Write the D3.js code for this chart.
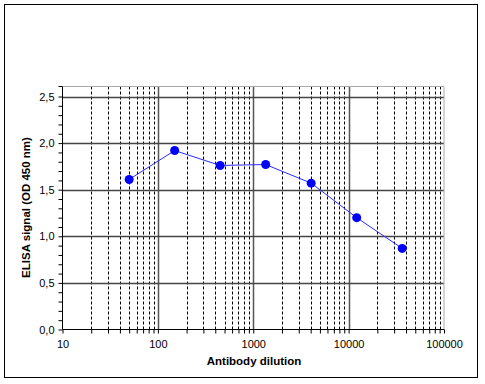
<!DOCTYPE html>
<html><head><meta charset="utf-8">
<script src="https://cdn.jsdelivr.net/npm/d3@7"></script>
<style>
html,body{margin:0;padding:0;background:#fff;}
svg{display:block;font-family:Arial,"Liberation Sans",sans-serif;}
</style></head>
<body>
<svg id="chart" width="485" height="384"></svg>
<script>
const dilutions = [50, 150, 450, 1350, 4050, 12150, 36450];
const signals = [1.61, 1.92, 1.76, 1.77, 1.57, 1.20, 0.87];
const xTickLabels = ["10", "100", "1000", "10000", "100000"];
const xTickValues = [10, 100, 1000, 10000, 100000];
const yTickValues = [0, 0.5, 1.0, 1.5, 2.0, 2.5];
const yTickLabels = ["0,0", "0,5", "1,0", "1,5", "2,0", "2,5"];

const svg = d3.select("#chart");
// outer frame
svg.append("rect").attr("x", 4.5).attr("y", 4.5).attr("width", 473).attr("height", 373)
  .attr("fill", "#fff").attr("stroke", "#000").attr("stroke-width", 1);

const left = 62.5, right = 444, bottom = 329.5, plotTop = 86.5;
const x = d3.scaleLog().domain([10, 100000]).range([left, right]);
const y = d3.scaleLinear().domain([0, 2.5]).range([bottom, 96.5]);

const g = svg.append("g");

// minor vertical dashed gridlines
const minor = [];
for (let d = 10; d < 100000; d *= 10) for (let k = 2; k <= 9; k++) minor.push(d * k);
g.selectAll(".vminor").data(minor).enter().append("line")
  .attr("x1", d => Math.round(x(d)) + 0.5).attr("x2", d => Math.round(x(d)) + 0.5)
  .attr("y1", plotTop).attr("y2", bottom)
  .attr("stroke", "#000").attr("stroke-width", 1).attr("stroke-dasharray", "3,2");

// major vertical gridlines
g.selectAll(".vmajor").data([100, 1000, 10000]).enter().append("line")
  .attr("x1", d => Math.round(x(d)) + 0.5).attr("x2", d => Math.round(x(d)) + 0.5)
  .attr("y1", plotTop).attr("y2", bottom)
  .attr("stroke", "#555").attr("stroke-width", 1.5);

// horizontal gridlines
g.selectAll(".hmajor").data(yTickValues.slice(1)).enter().append("line")
  .attr("x1", left).attr("x2", right)
  .attr("y1", d => Math.round(y(d)) + 0.5).attr("y2", d => Math.round(y(d)) + 0.5)
  .attr("stroke", "#444").attr("stroke-width", 1.5);

// plot border top & right (gray)
g.append("path").attr("d", `M${left},${plotTop}H${right}V${bottom}`)
  .attr("fill", "none").attr("stroke", "#aaa").attr("stroke-width", 1);

// y axis
const yMinor = d3.range(0, 26).map(i => i / 10);
const yAxis = d3.axisLeft(y).tickValues(yMinor).tickSize(4)
  .tickFormat(d => {
    const i = yTickValues.findIndex(v => Math.abs(v - d) < 1e-9);
    return i >= 0 ? yTickLabels[i] : "";
  });
const ya = svg.append("g").attr("transform", `translate(${left},0)`).call(yAxis);
ya.select(".domain").remove();
ya.append("line").attr("x1", 0).attr("x2", 0).attr("y1", plotTop).attr("y2", bottom).attr("stroke", "#000");
ya.append("line").attr("x1", -4).attr("x2", 0).attr("y1", plotTop).attr("y2", plotTop).attr("stroke", "#000");
ya.selectAll(".tick line").attr("stroke", "#000");
ya.selectAll(".tick text").attr("font-size", 11).attr("fill", "#000").attr("font-family", "Arial,'Liberation Sans',sans-serif").attr("dx", -1);

// x axis
const xAxis = d3.axisBottom(x).tickValues(xTickValues.concat(minor)).tickSize(4)
  .tickFormat(d => {
    const i = xTickValues.indexOf(d);
    return i >= 0 ? xTickLabels[i] : "";
  });
const xa = svg.append("g").attr("transform", `translate(0,${bottom})`).call(xAxis);
xa.select(".domain").remove();
xa.append("line").attr("x1", left).attr("x2", right).attr("y1", 0).attr("y2", 0).attr("stroke", "#000");
xa.selectAll(".tick line").attr("stroke", "#000");
xa.selectAll(".tick text").attr("font-size", 11).attr("fill", "#000").attr("font-family", "Arial,'Liberation Sans',sans-serif").attr("dy", "1.05em");

// axis titles
svg.append("text").attr("x", 254).attr("y", 365).attr("text-anchor", "middle")
  .attr("font-size", 11.5).attr("font-weight", "bold").text("Antibody dilution");
svg.append("text").attr("transform", `translate(30,207.5) rotate(-90)`)
  .attr("text-anchor", "middle").attr("font-size", 11.5).attr("font-weight", "bold")
  .text("ELISA signal (OD 450 nm)");

// data
const pts = dilutions.map((d, i) => [d, signals[i]]);
svg.append("path").datum(pts)
  .attr("d", d3.line().x(d => x(d[0])).y(d => y(d[1])))
  .attr("fill", "none").attr("stroke", "#2b2bff").attr("stroke-width", 1);
svg.selectAll(".pt").data(pts).enter().append("circle")
  .attr("cx", d => x(d[0])).attr("cy", d => y(d[1])).attr("r", 4.5)
  .attr("fill", "#0000ff");
</script>
</body></html>
